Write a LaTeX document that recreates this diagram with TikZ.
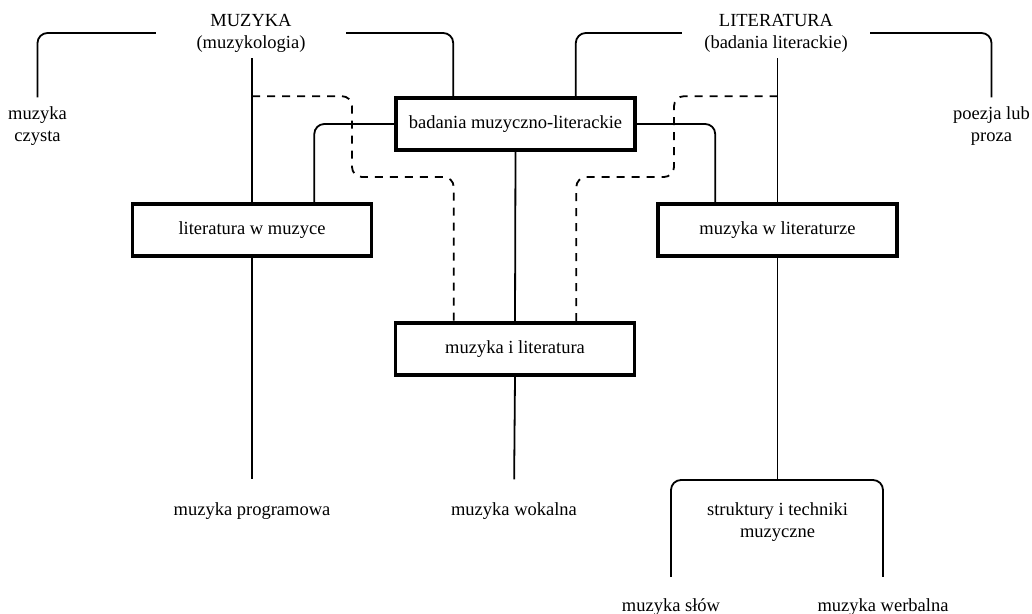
\documentclass[tikz,border=0pt]{standalone}
\usepackage{fontspec}
\setmainfont{Liberation Serif}
\begin{document}
\begin{tikzpicture}[x=1pt,y=-1pt,
  every node/.style={font=\fontsize{18.5}{22}\selectfont, align=center},
  field/.style={inner sep=6pt},
  area/.style={draw, line width=3.6pt, minimum width=239pt, minimum height=52pt},
  link/.style={line width=1.8pt, rounded corners=10pt},
  bridge/.style={line width=1.8pt, dash pattern=on 8pt off 7pt, rounded corners=10pt}]
\useasboundingbox (0,0) rectangle (1032,613);
% boxes
\node[area] (bml) at (515.5,124) {badania muzyczno-literackie};
\node[area] (lwm) at (252,230) {literatura w muzyce};
\node[area] (mwl) at (777.5,230) {muzyka w literaturze};
\node[area] (mil) at (515,349) {muzyka i literatura};
% plain labels
\node[field, minimum width=190pt] (muz) at (251,33) {MUZYKA\\(muzykologia)};
\node[field, minimum width=188pt] (lit) at (776,33) {LITERATURA\\(badania literackie)};
\node[field] (czy) at (37.5,126) {muzyka\\czysta};
\node[field] (poe) at (991.5,126) {poezja lub\\proza};
\node[field] (prg) at (252,511) {muzyka programowa};
\node[field] (wok) at (514,511) {muzyka wokalna};
\node[field] (str) at (777.5,522) {struktury i techniki\\muzyczne};
\node[field, anchor=base] (slo) at (671,611) {muzyka słów};
\node[field, anchor=base] (wer) at (883,611) {muzyka werbalna};
\coordinate (fork) at (777.5,480);
% brackets
\draw[link] (muz.west) -| ([yshift=3pt]czy.north);
\draw[link] (muz.east) -| ([xshift=59pt]bml.north west);
\draw[link] (lit.west) -| ([xshift=-61pt]bml.north east);
\draw[link] (lit.east) -| ([yshift=3pt]poe.north);
\draw[link] (bml.west) -| ([xshift=-59pt]lwm.north east);
\draw[link] (bml.east) -| ([xshift=59pt]mwl.north west);
% vertical lines
\draw[link] (lwm.north |- muz.south) -- (lwm.north);
\draw[link, shorten >=17pt] (lwm.south) -- (prg.north);
\draw[link] (bml.south) -- (mil.north);
\draw[link, shorten >=17pt] (mil.south) -- (wok.north);
\draw[link] (mwl.north |- lit.south) -- (mwl.north);
\draw[link] (mwl.south) -- (fork);
\draw[link] ([yshift=15pt]slo.north) |- (fork) -| ([yshift=15pt]wer.north);
% dashed
\draw[bridge] (lwm.north |- bml.north) -| (352,177) -| ([xshift=60pt]mil.north west);
\draw[bridge] (mwl.north |- bml.north) -| (674,177) -| ([xshift=-60pt]mil.north east);
\end{tikzpicture}
\end{document}
